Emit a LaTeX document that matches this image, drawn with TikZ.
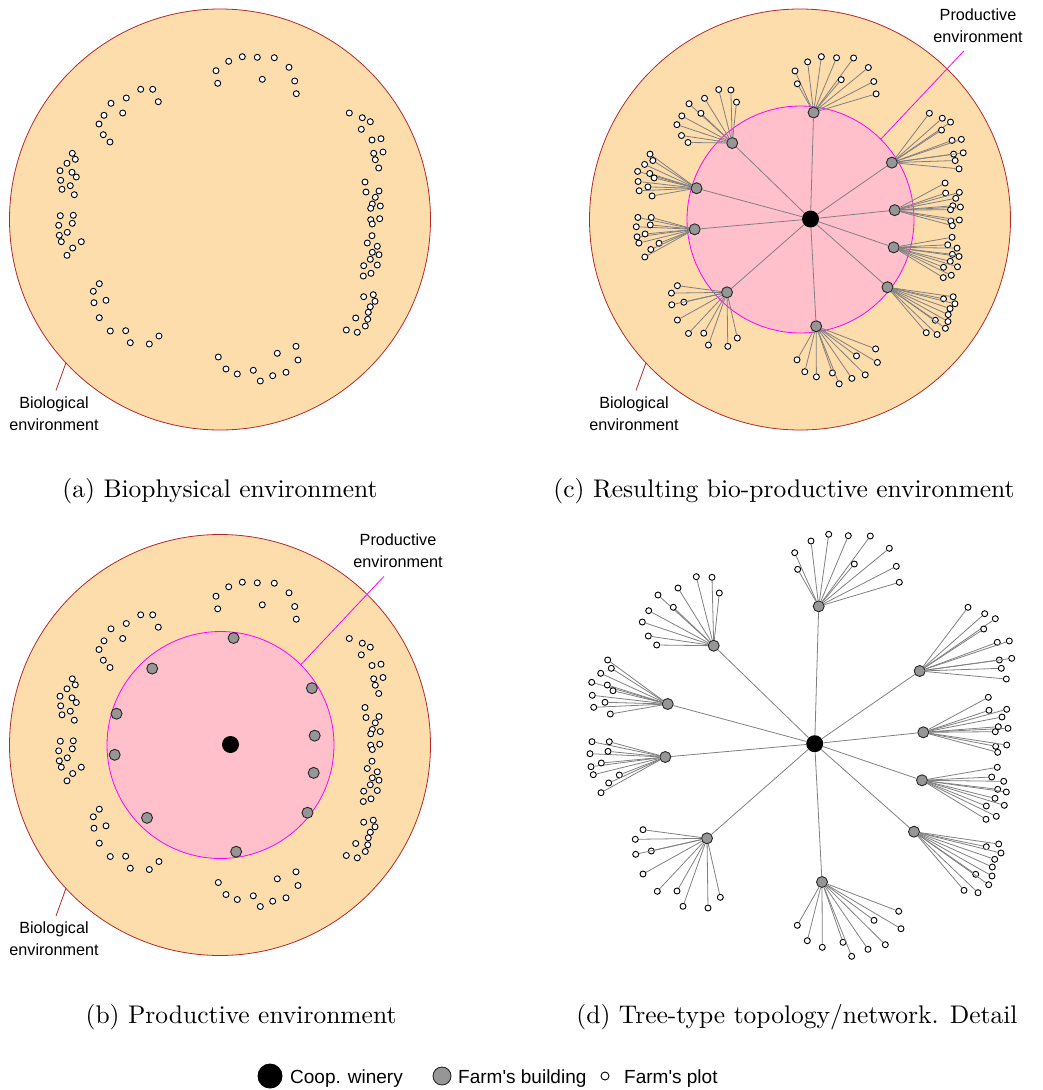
\documentclass[tikz,border=0pt]{standalone}
\usepackage{fontspec}
\usepackage{graphicx}
\usetikzlibrary{calc}
\newfontfamily\lab{Liberation Sans}
\definecolor{biofill}{RGB}{254,221,172}
\definecolor{bioline}{RGB}{180,40,40}
\definecolor{prodfill}{RGB}{255,192,203}
\definecolor{prodline}{RGB}{255,0,255}
\definecolor{farmgray}{RGB}{150,150,150}
\definecolor{linkgray}{RGB}{128,128,128}
\tikzset{
  plotnode/.style={circle,draw=black,fill=white,line width=0.9pt,inner sep=0pt,minimum size=6pt},
  farmnode/.style={circle,draw=black!85,fill=farmgray,line width=0.9pt,inner sep=0pt,minimum size=11pt},
  winerynode/.style={circle,fill=black,inner sep=0pt,minimum size=17pt},
  linkline/.style={draw=linkgray,line width=0.8pt},
  bioenv/.style={circle,draw=bioline,fill=biofill,line width=0.8pt,inner sep=0pt,minimum size=421pt},
  prodenv/.style={circle,draw=prodline,fill=prodfill,line width=0.8pt,inner sep=0pt,minimum size=227pt},
  lbl/.style={font=\lab\fontsize{16.2}{22}\selectfont,align=center,inner sep=0pt,anchor=north},
  bioleader/.style={draw=bioline,line width=0.8pt},
  prodleader/.style={draw=prodline,line width=0.8pt},
  captext/.style={anchor=base,inner sep=0pt},
  legtext/.style={font=\lab\fontsize{19}{23}\selectfont,anchor=base west,inner sep=0pt},
}
\newcommand\captxt[1]{\scalebox{2.55}{\fontsize{10}{12}\selectfont #1}}
\def\ringdata{216/70.7, 217.7/83.3, 228.7/61.3, 242.3/56.7, 257.3/57.3, 274.3/57.7, 289/67.3, 262.3/79.3, 294.7/81, 296.3/93.7,
140.7/89.3, 152.7/89.3, 126.3/98, 111/103.3, 158.3/101.7, 122.7/113, 104/115.3, 99/124, 103.3/134.7, 110/142,
72.3/153.3, 75.3/159.3, 67/163.3, 60/170.7, 72/172.3, 76.3/177, 60.7/180.3, 70.3/185.7, 62/189.3, 74.3/194.7,
60.3/215.7, 73.3/215.3, 58.7/225.3, 72.3/223.3, 59.3/235.3, 67.3/232.3, 61.3/241.7, 81.3/241.7, 72.7/248, 67/255.3,
99.3/283.7, 93.3/291.3, 94/302.7, 106/300.3, 99.3/317.7, 110.3/331, 125.7/330.7, 130.3/342.7, 149.3/344, 159/336,
296/346.3, 277.3/353.3, 298/360, 218.3/357, 226/369, 237.3/374, 253.3/370.3, 260.3/381, 272.7/375.7, 286/372.3,
363.7/296.7, 373.3/294.7, 375/301.3, 370.3/306.7, 368.3/312.3, 355.7/318, 367.7/319.3, 365.3/326, 346.3/330, 357.3/332.3,
372/235.7, 367.3/243, 377.3/246.3, 372.3/252.3, 379/254.7, 370.3/259.3, 363.7/265.7, 377.3/265, 371/273.3, 363.3/276,
365/182, 366/192, 379/191, 375.3/197.3, 372.3/204, 380.3/206, 370.7/208.3, 370.7/219.7, 379.7/218.7, 372.3/224,
349.3/113, 362.3/117.7, 370.3/121.7, 361.3/129.3, 372/140, 381/138.7, 373.7/153.3, 383/152, 375.3/159.7, 378.7/168}
\def\netdata{1/818.7/606.3/{794.7/552.7, 811/541, 828.7/534.3, 848.3/535.7, 870.3/536, 797.7/569.3, 854.3/564, 889.3/548.3, 896.3/566.3, 899.3/582.3},
2/919.7/671/{968/607.3, 984.7/613.7, 995.3/618.7, 983.7/629, 997.3/642.3, 1009.3/641, 999.3/660, 1011.7/658.3, 1001.3/668.3, 1006.3/679},
3/923.3/732.3/{988.3/697.3, 989/710.3, 1006.7/709.3, 1002/717, 998.3/726.7, 1008/728.3, 995.3/731.7, 995.7/746.3, 1006.7/745, 997.7/752.3},
4/922/780.3/{997.3/767.3, 991.7/777, 1003.7/781.3, 997.7/789.3, 1006.3/792, 995/798.3, 1004.3/805.3, 986.3/806, 996.3/816.3, 986/819.3},
5/914/831.7/{998.7/844, 986.3/846.7, 1001/853, 994.7/859.3, 992.3/867, 975.7/874.3, 992/876, 988.7/884.7, 964/890.3, 978/892.7},
6/822/882/{797.3/925.3, 807.3/940.7, 822.3/947.3, 843/942.3, 851.7/956.3, 868/949.3, 874/920.3, 898.7/911.3, 901/928.7, 885.3/944.7},
7/707/838.3/{643/829.7, 635.3/839.3, 651.3/851, 635.7/854.3, 643/874, 657.3/891.3, 677/891, 683/906.3, 708/908, 720.3/897.3},
8/665.3/757/{592/741.7, 609.3/741.7, 590/753.7, 608/751.3, 591/766.7, 601.3/763, 593.3/774.7, 619.3/775, 608.7/783, 601/792.7},
9/667.7/704/{607.7/660, 611.3/668.3, 600.7/673.3, 591.7/682.3, 607.3/685, 613/690.7, 592.3/695.3, 605/702.3, 593.7/707.3, 610.3/714},
10/713.7/645.7/{696.3/576.7, 712/577.3, 719.3/593, 678/588, 658/595, 673.3/607.3, 648.7/610.7, 642.3/622, 648.3/636, 656.7/645}}
\newcommand\drawring[1]{%
  \foreach \px/\py [count=\k] in \ringdata {\node[plotnode] (#1r\k) at (\px,\py) {};}%
}
\newcommand\drawnet[1]{%
  \node[winerynode] (#1w) at (814.7,743.7) {};
  \foreach \i/\bx/\by/\pl in \netdata {%
    \node[farmnode] (#1b\i) at (\bx,\by) {};
    \draw[linkline] (#1w) -- (#1b\i);
    \foreach \qx/\qy [count=\j] in \pl {%
      \node[plotnode] (#1p\i-\j) at (\qx,\qy) {};
      \draw[linkline] (#1b\i) -- (#1p\i-\j);
    }%
  }%
}
\begin{document}
\begin{tikzpicture}[x=1pt,y=-1pt]
\useasboundingbox (0,0) rectangle (1042,1090);
% ---------- (a)
\node[bioenv] (bioA) at (220,219.5) {};
\node[lbl] (labA) at (54,396.5) {Biological\\environment};
\draw[bioleader] (bioA.223.8) -- ($(labA.north)+(2,-6)$);
\drawring{a}
\node[captext] (capA) at (220,497) {\captxt{(a) Biophysical environment}};
% ---------- (b)
\node[bioenv] (bioB) at (220,745) {};
\node[prodenv] (prodB) at (220.5,745) {};
\node[lbl] (labB) at (54,922) {Biological\\environment};
\draw[bioleader] (bioB.223.8) -- ($(labB.north)+(2,-6)$);
\node[lbl] (labPB) at (398,534) {Productive\\environment};
\draw[prodleader] (prodB.45) -- ($(labPB.south)+(-14,8)$);
\begin{scope}[shift={(0,525.5)}]
  \drawring{b}
\end{scope}
\begin{scope}[shift={(230.5,744.5)},scale=0.7752,shift={(-814.7,-743.7)}]
  \node[winerynode] (bw) at (814.7,743.7) {};
  \foreach \i/\bx/\by/\pl in \netdata {\node[farmnode] (bb\i) at (\bx,\by) {};}
\end{scope}
\node[captext] (capB) at (241,1023) {\captxt{(b) Productive environment}};
% ---------- (c)
\node[bioenv] (bioC) at (800,219.5) {};
\node[prodenv] (prodC) at (800.5,219.5) {};
\node[lbl] (labC) at (634,396.5) {Biological\\environment};
\draw[bioleader] (bioC.223.8) -- ($(labC.north)+(2,-6)$);
\node[lbl] (labPC) at (978,8.5) {Productive\\environment};
\draw[prodleader] (prodC.45) -- ($(labPC.south)+(-14,8)$);
\begin{scope}[shift={(810.5,219)},scale=0.7752,shift={(-814.7,-743.7)}]
  \drawnet{c}
\end{scope}
\node[captext] (capC) at (784,497) {\captxt{(c) Resulting bio-productive environment}};
% ---------- (d)
\drawnet{d}
\node[captext] (capD) at (797,1023) {\captxt{(d) Tree-type topology/network. Detail}};
% ---------- legend
\node[winerynode,minimum size=25pt] (legW) at (270,1076) {};
\node[legtext] (legWt) at (290,1083) {Coop. winery};
\node[farmnode,minimum size=18pt] (legB) at (442,1076) {};
\node[legtext] (legBt) at (458,1083) {Farm's building};
\node[plotnode,minimum size=8pt] (legP) at (605,1076) {};
\node[legtext] (legPt) at (624,1083) {Farm's plot};
\end{tikzpicture}
\end{document}
